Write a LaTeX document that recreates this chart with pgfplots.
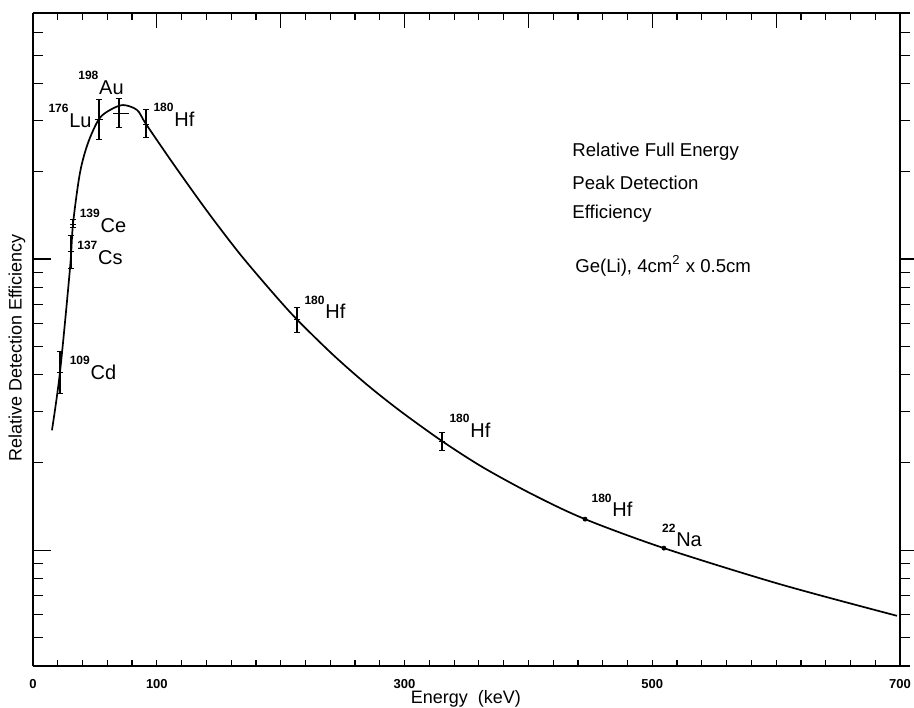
\documentclass[border=0pt]{standalone}
\usepackage{fontspec}
\setmainfont{Liberation Sans}
\usepackage{pgfplots}
\pgfplotsset{compat=1.18}

% isotope label: mass number raised before the element
\newcommand{\iso}[2]{\raisebox{0.72em}{\fontsize{6}{6}\selectfont\bfseries #1}\kern0.4pt#2}

\pgfplotsset{
  chartbox/.style={
    scale only axis, width=433.5pt, height=326.5pt,
    xmin=0, xmax=700, ymin=0.4, ymax=70,
    axis line style={line width=0.8pt},
    every tick/.style={black, line width=0.6pt},
    clip=false,
  },
  decadeticks/.style={
    ytick={1,10}, yticklabels={},
    minor ytick={0.4,0.5,0.6,0.7,0.8,0.9,2,3,4,5,6,7,8,9,20,30,40,50,60,70},
  },
}

\begin{document}
\begin{tikzpicture}
% left axis
\begin{axis}[ymode=log, chartbox, decadeticks, hide x axis, axis y line*=left,
    tick align=inside, major tick length=9pt, minor tick length=5pt,
    ylabel={Relative Detection Efficiency},
    every axis y label/.style={at={(axis description cs:-0.0185,0.487)},
      rotate=90, anchor=center, font=\fontsize{9}{10}\selectfont},
]
\end{axis}
% right axis
\begin{axis}[ymode=log, chartbox, decadeticks, hide x axis, axis y line*=right,
    tick align=outside, major tick length=8pt, minor tick length=5pt,
]
\end{axis}
% top axis
\begin{axis}[ymode=log, chartbox, hide y axis, axis x line*=top,
    tick align=inside, major tick length=7.5pt, minor tick length=3.5pt,
    xtick={100,200,...,700}, xticklabels={},
    minor xtick={0,20,...,700},
]
\end{axis}
% bottom axis with the data
\begin{axis}[ymode=log, chartbox, hide y axis, axis x line*=bottom,
    tick align=inside, major tick length=3pt, minor tick length=3pt,
    xtick={0,100,300,500,700},
    minor xtick={0,20,...,700},
    /pgf/number format/assume math mode=true,
    xticklabel style={font=\fontsize{6.5}{7}\selectfont\bfseries, yshift=-3pt},
    xlabel={Energy\ \ (keV)},
    every axis x label/.style={at={(axis description cs:0.4994,0)},
      anchor=center, yshift=-16.5pt, font=\fontsize{9}{10}\selectfont},
]
\coordinate (bl) at (rel axis cs:0,0);
\coordinate (tr) at (rel axis cs:1,1);

% fitted efficiency curve
\addplot[black, line width=0.85pt, smooth, tension=0.5] coordinates {
  (15.3,2.58) (21.8,4.09) (29.9,9.31) (32.3,13.19) (37.9,19.75)
  (44.4,25.04) (53.3,30.27) (62.2,32.5) (72.7,33.8) (84.0,32.5)
  (91.2,29.1) (113.0,21.31) (140.5,14.62) (167.1,10.40) (193.8,7.64)
  (213.1,6.20) (242.2,4.69) (269.7,3.70) (296.3,3.01) (330.2,2.37)
  (363.3,1.925) (403.7,1.551) (445.7,1.278) (509.4,1.016) (603.1,0.764)
  (697.6,0.595)
};

% measured points with error bars
\addplot[black, only marks, mark=-, mark size=1.6pt,
    error bars/.cd, y dir=both, y explicit, error mark=-,
    error mark options={black, rotate=90, mark size=1.6pt, line width=0.5pt},
    error bar style={black, line width=0.6pt}]
  coordinates {
  (21.8,4.09)  += (0,0.74) -= (0,0.63)
  (30.7,10.65) += (0,1.35) -= (0,1.34)
  (32.3,13.19) += (0,0.43) -= (0,0.41)
  (91.2,29.1)  += (0,3.6)  -= (0,2.9)
  (213.1,6.20) += (0,0.59) -= (0,0.59)
  (330.2,2.37) += (0,0.16) -= (0,0.17)
};
\addplot[black, only marks, mark=+, mark size=2.2pt,
    error bars/.cd, y dir=both, y explicit, error mark=-,
    error mark options={black, rotate=90, mark size=1.6pt, line width=0.5pt},
    error bar style={black, line width=0.6pt}]
  coordinates {
  (53.3,30.27) += (0,4.93) -= (0,4.47)
  (69.4,31.7)  += (0,3.8)  -= (0,3.3)
};
% horizontal bar of the 198Au point
\addplot[black, line width=0.6pt] coordinates {(64.6,31.7) (77.5,31.7)};
\addplot[black, only marks, mark=*, mark size=1pt]
  coordinates {(445.7,1.278) (509.4,1.016)};

% isotope labels
\begin{scope}[every node/.style={font=\fontsize{10}{11}\selectfont, inner sep=0pt}]
\node at (axis cs:54.9,40.3) {\iso{198}{Au}};
\node at (axis cs:29.9,31.0) {\iso{176}{Lu}};
\node at (axis cs:113.8,31.3) {\iso{180}{Hf}};
\node at (axis cs:56.5,13.5) {\iso{139}{Ce}};
\node at (axis cs:54.1,10.5) {\iso{137}{Cs}};
\node at (axis cs:48.4,4.22) {\iso{109}{Cd}};
\node at (axis cs:235.7,6.84) {\iso{180}{Hf}};
\node at (axis cs:352.8,2.67) {\iso{180}{Hf}};
\node at (axis cs:467.5,1.428) {\iso{180}{Hf}};
\node at (axis cs:524.0,1.126) {\iso{22}{Na}};
\end{scope}

% legend text
\begin{scope}[every node/.style={font=\fontsize{9.3}{11}\selectfont, anchor=west, inner sep=0pt}]
\node at (rel axis cs:0.6217,0.787) {Relative Full Energy};
\node at (rel axis cs:0.6217,0.740) {Peak Detection};
\node at (rel axis cs:0.6217,0.692) {Efficiency};
\node at (rel axis cs:0.625,0.6126) {Ge(Li), 4cm\textsuperscript{2} x 0.5cm};
\end{scope}
\end{axis}

\pgfresetboundingbox
\path[use as bounding box] ([shift={(-16.5pt,-20.5pt)}]bl) rectangle ([shift={(7pt,6.5pt)}]tr);
\end{tikzpicture}
\end{document}
